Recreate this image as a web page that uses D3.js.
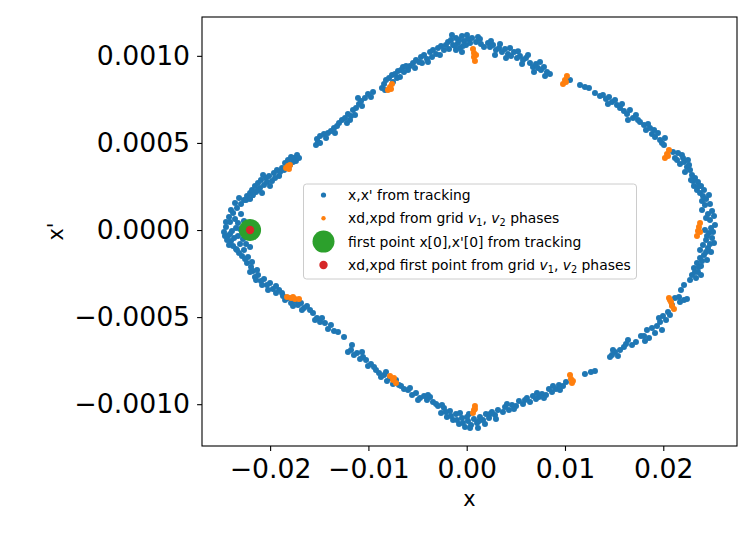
<!DOCTYPE html>
<html><head><meta charset="utf-8">
<script src="https://cdn.jsdelivr.net/npm/d3@7"></script>
<style>body{margin:0;background:#fff}svg{display:block}</style>
</head><body>
<svg id="c" width="756" height="533"></svg>
<script>
// x, x' from tracking
const trackingPts = [
[-0.02469,-0.000011],[-0.02449,0.000017],[-0.02428,-0.000034],[-0.02408,0.000046],[-0.02398,-0.000063],
[-0.02418,0.000075],[-0.02377,0.000098],[-0.02357,0.000063],[-0.02347,0.000011],[-0.02327,-0.000034],
[-0.02377,-0.000092],[-0.02347,-0.000109],[-0.02316,-0.000132],[-0.02286,-0.000149],[-0.02255,-0.000166],
[-0.02306,-0.000080],[-0.02388,-0.000006],[-0.02438,-0.000057],[-0.02337,0.000126],[-0.02296,0.000149],
[-0.02266,0.000172],[-0.02235,0.000195],[-0.02204,0.000212],[-0.02327,0.000040],[-0.02276,-0.000052],
[-0.02225,-0.000155],[-0.02184,-0.000184],[-0.02367,-0.000046],
[-0.02449,0.000046],[-0.02418,-0.000086],[-0.02398,0.000115],[-0.02357,0.000155],[-0.02316,0.000184],
[-0.02296,0.000092],[-0.02337,-0.000115],[-0.02266,-0.000115],[-0.02235,-0.000189],[-0.02408,-0.000023],
[-0.02459,-0.000034],[-0.02306,0.000006],
[-0.02245,-0.000080],[-0.02204,-0.000098],[-0.02266,0.000052],[-0.02286,-0.000011],
[-0.02184,0.000230],[-0.02154,0.000253],[-0.02123,0.000270],[-0.02143,0.000218],[-0.02093,0.000287],
[-0.02062,0.000258],[-0.02042,0.000299],[-0.02011,0.000310],[-0.01981,0.000281],[-0.01961,0.000327],
[-0.01930,0.000344],[-0.01909,0.000310],[-0.01879,0.000356],[-0.01848,0.000385],[-0.01818,0.000402],
[-0.01787,0.000419],[-0.01757,0.000413],[-0.01737,0.000396],[-0.01726,0.000431],[-0.01798,0.000373],
[-0.02103,0.000241],[-0.02245,0.000172],
[-0.02204,0.000178],[-0.02174,0.000201],[-0.02123,0.000230],[-0.02082,0.000212],[-0.02032,0.000276],
[-0.02001,0.000253],[-0.01950,0.000299],[-0.01899,0.000333],[-0.01858,0.000344],[-0.01767,0.000390],
[-0.01706,0.000413],[-0.02072,0.000316],
[-0.01533,0.000488],[-0.01513,0.000505],[-0.01523,0.000522],[-0.01492,0.000540],[-0.01452,0.000551],
[-0.01411,0.000557],[-0.01381,0.000568],[-0.01350,0.000586],[-0.01319,0.000597],[-0.01299,0.000614],
[-0.01492,0.000499],[-0.01431,0.000528],[-0.01340,0.000557],
[-0.01269,0.000631],[-0.01238,0.000643],[-0.01208,0.000666],[-0.01177,0.000654],[-0.01157,0.000689],
[-0.01126,0.000700],[-0.01096,0.000723],[-0.01218,0.000614],[-0.01075,0.000741],[-0.01035,0.000758],
[-0.01004,0.000781],[-0.00974,0.000764],[-0.00953,0.000792],
[-0.01187,0.000631],[-0.01136,0.000660],[-0.01065,0.000712],[-0.01106,0.000758],
[-0.00862,0.000815],[-0.00841,0.000838],[-0.00821,0.000861],[-0.00790,0.000873],[-0.00760,0.000890],
[-0.00729,0.000896],[-0.00699,0.000913],[-0.00668,0.000919],[-0.00638,0.000907],[-0.00709,0.000873],
[-0.00750,0.000850],[-0.00648,0.000936],[-0.00831,0.000804],[-0.00679,0.000878],
[-0.00577,0.000941],[-0.00546,0.000959],[-0.00516,0.000976],[-0.00485,0.000964],[-0.00465,0.000993],
[-0.00434,0.001005],[-0.00404,0.000982],[-0.00373,0.001022],[-0.00343,0.001033],[-0.00312,0.001010],
[-0.00292,0.001045],[-0.00261,0.001056],[-0.00231,0.001033],[-0.00211,0.001062],[-0.00597,0.000919],
[-0.00617,0.000941],[-0.00526,0.000930],[-0.00455,0.000959],[-0.00394,0.000964],[-0.00353,0.000993],
[-0.00272,0.001005],
[-0.00190,0.001079],[-0.00160,0.001091],[-0.00139,0.001062],[-0.00109,0.001102],[-0.00089,0.001074],
[-0.00068,0.001045],[-0.00048,0.001114],[-0.00027,0.001085],[-0.00007,0.001062],[0.00013,0.001096],
[0.00034,0.001074],[0.00054,0.001102],[0.00095,0.001079],[0.00115,0.001108],[-0.00109,0.001033],
[-0.00048,0.001022],[-0.00180,0.001039],[0.00145,0.001068],
[-0.00150,0.001119],[-0.00078,0.001091],[0.00003,0.001119],[-0.00038,0.001056],[-0.00119,0.001056],
[0.00135,0.001096],[0.00176,0.001051],
[0.00217,0.001074],[0.00237,0.001051],[0.00268,0.001062],[0.00298,0.001033],[0.00329,0.001045],
[0.00359,0.001022],[0.00390,0.001039],[0.00420,0.001010],[0.00451,0.000999],[0.00481,0.001022],
[0.00512,0.000987],[0.00542,0.000999],[0.00573,0.000976],[0.00603,0.000987],[0.00288,0.001005],
[0.00247,0.001085],[0.00339,0.001068],[0.00400,0.000987],[0.00441,0.001045],[0.00522,0.001027],
[0.00563,0.000953],[0.00624,0.001005],
[0.00644,0.000959],[0.00674,0.000936],[0.00705,0.000953],[0.00725,0.000930],[0.00756,0.000919],
[0.00786,0.000936],[0.00817,0.000907],[0.00847,0.000896],[0.00685,0.000907],[0.00746,0.000964],
[0.00797,0.000884],
[0.01051,0.000861],[0.01153,0.000832],[0.01244,0.000815],[0.01305,0.000786],[0.01386,0.000775],
[0.01417,0.000752],[0.01448,0.000764],[0.01478,0.000735],[0.01509,0.000746],[0.01529,0.000718],
[0.01203,0.000821],[0.01356,0.000769],[0.01437,0.000723],
[0.01560,0.000700],[0.01600,0.000683],[0.01631,0.000666],[0.01661,0.000689],[0.01692,0.000643],
[0.01722,0.000660],[0.01763,0.000620],[0.01804,0.000603],[0.01824,0.000574],[0.01865,0.000586],
[0.01885,0.000551],[0.01916,0.000534],[0.01946,0.000557],[0.01967,0.000517],[0.01987,0.000499],
[0.02017,0.000528],[0.01580,0.000723],[0.01641,0.000631],[0.01743,0.000631],[0.01845,0.000609],
[0.01906,0.000574],[0.02007,0.000488],
[0.02150,0.000442],[0.02190,0.000431],[0.02140,0.000402],[0.02170,0.000379],[0.02211,0.000390],
[0.02241,0.000362],[0.02272,0.000344],[0.02221,0.000333],[0.02292,0.000316],[0.02323,0.000299],
[0.02353,0.000276],[0.02384,0.000253],[0.02312,0.000253],[0.02343,0.000230],[0.02374,0.000212],
[0.02404,0.000195],[0.02435,0.000178],[0.02465,0.000201],[0.02424,0.000144],[0.02394,0.000115],
[0.02455,0.000092],[0.02496,0.000109],[0.02475,0.000057],[0.02526,0.000029],[0.02099,0.000448],
[0.02251,0.000402],
[0.02119,0.000413],[0.02201,0.000413],[0.02262,0.000373],[0.02302,0.000281],[0.02363,0.000253],
[0.02414,0.000230],[0.02394,0.000166],[0.02475,0.000149],[0.02516,0.000080],[0.02435,0.000069],
[0.02486,0.000011],[0.02282,0.000287],
[0.02424,0.000000],[0.02465,-0.000017],[0.02496,-0.000046],[0.02435,-0.000057],[0.02404,-0.000086],
[0.02455,-0.000103],[0.02486,-0.000126],[0.02414,-0.000144],[0.02374,-0.000161],[0.02445,-0.000172],
[0.02343,-0.000189],[0.02384,-0.000207],[0.02312,-0.000218],[0.02353,-0.000241],[0.02292,-0.000258],
[0.02333,-0.000276],[0.02384,-0.000258],[0.02516,-0.000075],[0.02211,-0.000316],[0.02180,-0.000344],
[0.02506,-0.000011],[0.02445,-0.000034],[0.02475,-0.000080],[0.02435,-0.000126],[0.02394,-0.000178],
[0.02363,-0.000212],[0.02323,-0.000241],[0.02272,-0.000287],[0.02374,-0.000115],
[0.02119,-0.000390],[0.02160,-0.000385],[0.02211,-0.000402],[0.02241,-0.000396],[0.02089,-0.000431],
[0.02048,-0.000471],[0.01997,-0.000494],[0.02028,-0.000517],[0.01967,-0.000528],[0.01936,-0.000551],
[0.01987,-0.000574],[0.01916,-0.000591],
[0.02170,-0.000413],[0.02068,-0.000488],[0.01956,-0.000505],[0.01885,-0.000563],[0.01773,-0.000609],
[0.01621,-0.000654],[0.01488,-0.000689],
[0.01834,-0.000574],[0.01804,-0.000609],[0.01855,-0.000620],[0.01814,-0.000637],[0.01722,-0.000643],
[0.01682,-0.000660],[0.01641,-0.000631],[0.01600,-0.000672],[0.01560,-0.000689],[0.01509,-0.000700],
[0.01478,-0.000718],[0.01458,-0.000729],[0.01539,-0.000723],
[0.01203,-0.000827],[0.01264,-0.000815],[0.01305,-0.000809],
[0.01010,-0.000873],[0.00980,-0.000896],[0.00939,-0.000890],[0.00908,-0.000913],[0.00868,-0.000930],
[0.00837,-0.000913],[0.00807,-0.000947],[0.00766,-0.000941],[0.00735,-0.000959],[0.00705,-0.000970],
[0.00674,-0.000953],[0.00949,-0.000918],[0.00878,-0.000896],[0.00786,-0.000964],[0.00715,-0.000936],
[0.00644,-0.000987],[0.00613,-0.000964],[0.00573,-0.000999],[0.00532,-0.000982],[0.00502,-0.001010],
[0.00461,-0.001005],[0.00430,-0.001033],[0.00390,-0.001016],[0.00369,-0.001045],
[0.00593,-0.000976],[0.00481,-0.001027],[0.00410,-0.000999],
[0.00318,-0.001033],[0.00288,-0.001062],[0.00257,-0.001045],[0.00227,-0.001079],[0.00196,-0.001056],
[0.00166,-0.001091],[0.00135,-0.001074],[0.00105,-0.001108],[0.00074,-0.001085],[0.00044,-0.001119],
[0.00013,-0.001096],[-0.00017,-0.001131],[-0.00048,-0.001079],[-0.00078,-0.001114],[-0.00109,-0.001056],
[-0.00139,-0.001091],[-0.00170,-0.001039],[-0.00201,-0.001074],[-0.00231,-0.001022],[-0.00261,-0.001051],
[-0.00292,-0.001010],[-0.00068,-0.001051],[0.00023,-0.001056],[0.00115,-0.001137],
[0.00298,-0.001085],[0.00237,-0.001056],[0.00186,-0.001114],[0.00125,-0.001096],[0.00003,-0.001074],
[-0.00038,-0.001108],[-0.00099,-0.001091],[-0.00160,-0.001068],[-0.00211,-0.001045],[-0.00251,-0.001005],
[0.00034,-0.001137],
[-0.00343,-0.000987],[-0.00373,-0.000959],[-0.00404,-0.000976],[-0.00434,-0.000953],[-0.00475,-0.000964],
[-0.00516,-0.000936],[-0.00556,-0.000947],[-0.00597,-0.000919],[-0.00638,-0.000913],[-0.00668,-0.000896],
[-0.00312,-0.000999],[-0.00394,-0.000947],[-0.00495,-0.000976],[-0.00577,-0.000907],
[-0.00689,-0.000890],[-0.00719,-0.000861],[-0.00750,-0.000884],[-0.00780,-0.000850],[-0.00811,-0.000867],
[-0.00841,-0.000832],[-0.00872,-0.000844],[-0.00892,-0.000821],[-0.00821,-0.000815],[-0.00923,-0.000804],
[-0.00943,-0.000786],[-0.00974,-0.000769],[-0.01004,-0.000781],[-0.01024,-0.000746],[-0.01055,-0.000729],
[-0.01085,-0.000741],[-0.01116,-0.000706],[-0.01147,-0.000718],[-0.01177,-0.000689],[-0.01208,-0.000700],
[-0.01065,-0.000700],[-0.01167,-0.000660],
[-0.01248,-0.000614],[-0.01350,-0.000580],[-0.01381,-0.000545],[-0.01411,-0.000568],[-0.01442,-0.000534],
[-0.01492,-0.000528],[-0.01523,-0.000505],[-0.01309,-0.000586],[-0.01472,-0.000505],[-0.01543,-0.000517],
[-0.01564,-0.000476],[-0.01594,-0.000459],[-0.01625,-0.000436],[-0.01655,-0.000448],[-0.01686,-0.000419],
[-0.01716,-0.000431],[-0.01747,-0.000408],[-0.01787,-0.000419],[-0.01818,-0.000390],[-0.01848,-0.000402],
[-0.01676,-0.000459],[-0.01767,-0.000436],
[-0.01879,-0.000362],[-0.01909,-0.000344],[-0.01940,-0.000321],[-0.01971,-0.000339],[-0.02001,-0.000304],
[-0.02032,-0.000316],[-0.02062,-0.000281],[-0.02093,-0.000293],[-0.02123,-0.000258],[-0.02154,-0.000270],
[-0.02174,-0.000235],[-0.02204,-0.000241],
[-0.01869,-0.000379],[-0.01940,-0.000362],[-0.02021,-0.000344],[-0.02082,-0.000316],[-0.02143,-0.000287],
[-0.02194,-0.000212],[-0.02133,-0.000230]
];
// xd, xpd from grid v1,v2 phases
const gridPts = [
[-0.01838,0.000356],[-0.01818,0.000367],[-0.01798,0.000373],[-0.01808,0.000350],
[-0.00801,0.000804],[-0.00780,0.000821],[-0.00760,0.000838],[-0.00770,0.000809],
[0.00064,0.001039],[0.00074,0.001016],[0.00074,0.000993],[0.00084,0.000970],[0.00095,0.001005],
[0.00980,0.000838],[0.01000,0.000861],[0.01020,0.000884],[0.01010,0.000850],
[0.02017,0.000413],[0.02038,0.000436],[0.02058,0.000459],[0.02048,0.000425],
[0.02374,0.000040],[0.02363,0.000017],[0.02353,-0.000006],[0.02343,-0.000034],[0.02374,-0.000011],
[0.02058,-0.000390],[0.02079,-0.000413],[0.02089,-0.000436],[0.02109,-0.000453],[0.02068,-0.000402],
[0.01051,-0.000832],[0.01061,-0.000855],[0.01071,-0.000878],[0.01081,-0.000867],
[0.00084,-0.001010],[0.00074,-0.001033],[0.00064,-0.001051],[0.00084,-0.001027],
[-0.00780,-0.000838],[-0.00750,-0.000861],[-0.00719,-0.000878],[-0.00740,-0.000850],
[-0.01828,-0.000385],[-0.01787,-0.000390],[-0.01747,-0.000396],[-0.01706,-0.000396],[-0.01767,-0.000385]
];
const firstTrack = [-0.02204, 0.0];
const firstGrid = [-0.02204, 0.0];
const xTicks = [-0.02, -0.01, 0.0, 0.01, 0.02];
const yTicks = [-0.0010, -0.0005, 0.0, 0.0005, 0.0010];
const xDomain = [-0.02693, 0.02750];
const yDomain = [-0.00124, 0.001223];
const xLabel = "x", yLabel = "x'";
const colors = {track:"#1f77b4", grid:"#ff7f0e", first:"#2ca02c", firstGrid:"#d62728"};

const svg = d3.select("#c");
const m = {l:202, r:737, t:17, b:446};
const FONT = "DejaVu Sans, sans-serif";
svg.append("rect").attr("width",756).attr("height",533).attr("fill","#fff");

const x = d3.scaleLinear().domain(xDomain).range([m.l, m.r]);
const y = d3.scaleLinear().domain(yDomain).range([m.b, m.t]);

const plot = svg.append("g");
plot.selectAll("circle.tr").data(trackingPts).join("circle").attr("class","tr")
  .attr("cx",d=>x(d[0])).attr("cy",d=>y(d[1])).attr("r",3).attr("fill",colors.track);
plot.selectAll("circle.gr").data(gridPts).join("circle").attr("class","gr")
  .attr("cx",d=>x(d[0])).attr("cy",d=>y(d[1])).attr("r",3).attr("fill",colors.grid);
plot.append("circle").attr("cx",x(firstTrack[0])).attr("cy",y(firstTrack[1])).attr("r",11).attr("fill",colors.first);
plot.append("circle").attr("cx",x(firstGrid[0])).attr("cy",y(firstGrid[1])).attr("r",4.2).attr("fill",colors.firstGrid);

// axes
const gx = svg.append("g").attr("transform",`translate(0,${m.b})`)
  .call(d3.axisBottom(x).tickValues(xTicks).tickFormat(d3.format(".2f")).tickSize(4.9).tickPadding(8));
const gy = svg.append("g").attr("transform",`translate(${m.l},0)`)
  .call(d3.axisLeft(y).tickValues(yTicks).tickFormat(d3.format(".4f")).tickSize(4.9).tickPadding(7));
[gx,gy].forEach(g=>{
  g.select(".domain").remove();
  g.attr("font-family",FONT).attr("font-size",26.7);
  g.selectAll("line").attr("stroke","#000").attr("stroke-width",1.1);
  g.selectAll("text").attr("fill","#000");
});

svg.append("rect").attr("x",m.l).attr("y",m.t).attr("width",m.r-m.l).attr("height",m.b-m.t)
  .attr("fill","none").attr("stroke","#000").attr("stroke-width",1.1);

svg.append("text").attr("x",(m.l+m.r)/2).attr("y",506).attr("text-anchor","middle")
  .attr("font-family",FONT).attr("font-size",20.8).text(xLabel);
svg.append("text").attr("transform",`translate(63,${(m.t+m.b)/2}) rotate(-90)`).attr("text-anchor","middle")
  .attr("font-family",FONT).attr("font-size",20.8).text(yLabel);

// legend
const lg = svg.append("g");
lg.append("rect").attr("x",303.5).attr("y",184).attr("width",333).attr("height",95).attr("rx",3)
  .attr("fill","rgba(255,255,255,0.8)").attr("stroke","#cccccc").attr("stroke-width",1);
const rows = [195, 218.3, 241.6, 265];
const mk = [{c:colors.track,r:2.6},{c:colors.grid,r:2.2},{c:colors.first,r:11},{c:colors.firstGrid,r:4.2}];
mk.forEach((d,i)=>lg.append("circle").attr("cx",323.5).attr("cy",rows[i]).attr("r",d.r).attr("fill",d.c));
function addText(i, parts){
  const t = lg.append("text").attr("x",348).attr("y",rows[i]+5).attr("font-family",FONT).attr("font-size",13.9);
  parts.forEach(p=>{
    const s = t.append("tspan").text(p.t);
    if(p.it) s.attr("font-style","italic");
    if(p.sub) s.attr("font-size",9.7).attr("dy",3);
    if(p.up) s.attr("dy",-3);
  });
}
addText(0,[{t:"x,x' from tracking"}]);
addText(1,[{t:"xd,xpd from grid "},{t:"v",it:1},{t:"1",sub:1},{t:", ",up:1},{t:"v",it:1},{t:"2",sub:1},{t:" phases",up:1}]);
addText(2,[{t:"first point x[0],x'[0] from tracking"}]);
addText(3,[{t:"xd,xpd first point from grid "},{t:"v",it:1},{t:"1",sub:1},{t:", ",up:1},{t:"v",it:1},{t:"2",sub:1},{t:" phases",up:1}]);
</script>
</body></html>
